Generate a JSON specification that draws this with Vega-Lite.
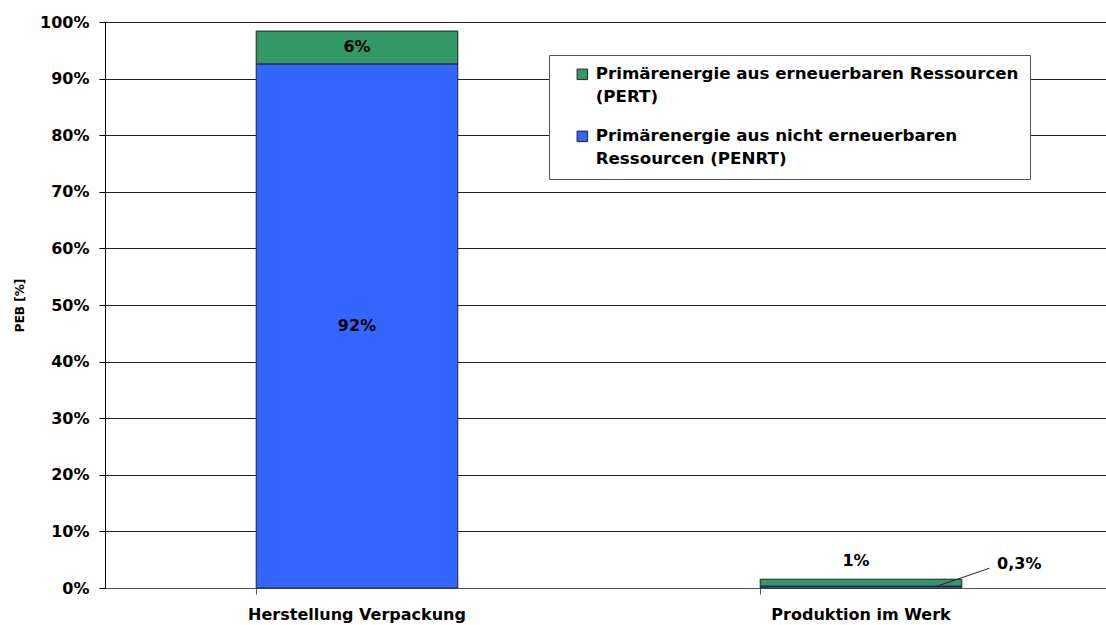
{
  "$schema": "https://vega.github.io/schema/vega-lite/v6.json",
  "autosize": {"type": "none"},
  "padding": {"left": 105, "top": 22, "right": 0, "bottom": 37},
  "width": 1008,
  "height": 566,
  "background": "white",
  "config": {
    "font": "DejaVu Sans",
    "view": {"stroke": null},
    "style": {"guide-label": {"lineHeight": 22.5}},
    "axis": {"labelFont": "DejaVu Sans", "titleFont": "DejaVu Sans", "labelColor": "#000", "titleColor": "#000"}
  },
  "datasets": {
    "main": [
      {"stage": "Herstellung Verpackung", "type": "PENRT", "value": 92.6, "label": "92%"},
      {"stage": "Herstellung Verpackung", "type": "PERT", "value": 5.8, "label": "6%"},
      {"stage": "Produktion im Werk", "type": "PENRT", "value": 0.35, "label": "0,3%"},
      {"stage": "Produktion im Werk", "type": "PERT", "value": 1.2, "label": "1%"}
    ],
    "leader": [
      {"ax": 1.65, "ay": 0.3},
      {"ax": 1.755, "ay": 3.5}
    ]
  },
  "resolve": {"scale": {"x": "independent"}},
  "layer": [
    {
      "data": {"name": "main"},
      "mark": {"type": "bar", "stroke": "#222", "strokeWidth": 1},
      "encoding": {
        "x": {
          "field": "stage", "type": "nominal", "sort": null,
          "scale": {"domain": ["Herstellung Verpackung", "Produktion im Werk"], "paddingInner": 0.6, "paddingOuter": 0.3},
          "axis": {"title": null, "labelAngle": 0, "labelFontSize": 16, "labelFontWeight": "bold", "labelPadding": 12, "labelLimit": 400, "ticks": true, "tickSize": 6, "bandPosition": 0, "domainColor": "#555", "tickColor": "#555", "grid": false}
        },
        "y": {
          "field": "value", "type": "quantitative", "stack": "zero",
          "scale": {"domain": [0, 100]},
          "axis": {"title": "PEB [%]", "titleFontSize": 12, "titleFontWeight": "bold", "titlePadding": 13, "values": [0,10,20,30,40,50,60,70,80,90,100], "labelExpr": "datum.value + '%'", "labelFontSize": 16, "labelFontWeight": "bold", "labelPadding": 10, "tickSize": 6, "tickColor": "#000", "domainColor": "#000", "gridColor": "#222", "gridWidth": 1}
        },
        "color": {
          "field": "type", "type": "nominal",
          "scale": {"domain": ["PERT", "PENRT"], "range": ["#339966", "#3366FF"]},
          "legend": {
            "title": null, "orient": "none", "legendX": 444, "legendY": 33,
            "fillColor": "white", "strokeColor": "#555", "padding": 11,
            "symbolType": "square", "symbolSize": 110, "symbolStrokeColor": "#222", "symbolStrokeWidth": 1, "symbolOffset": 14,
            "labelFontSize": 16.7, "labelFontWeight": "bold", "labelColor": "#000", "labelLimit": 600, "labelFont": "DejaVu Sans", "labelOffset": 5,
            "rowPadding": 22,
            "labelExpr": "datum.label == 'PERT' ? ['Primärenergie aus erneuerbaren Ressourcen', '(PERT)'] : ['Primärenergie aus nicht erneuerbaren', 'Ressourcen (PENRT)']"
          }
        },
        "order": {"field": "type", "sort": "ascending"}
      }
    },
    {
      "data": {"name": "main"},
      "transform": [
        {"filter": "datum.stage == 'Herstellung Verpackung'"},
        {"stack": "value", "groupby": ["stage"], "sort": [{"field": "type", "order": "ascending"}], "as": ["y0", "y1"]},
        {"calculate": "(datum.y0 + datum.y1) / 2", "as": "mid"}
      ],
      "mark": {"type": "text", "fontSize": 16, "fontWeight": "bold", "font": "DejaVu Sans", "color": "#000"},
      "encoding": {
        "x": {"field": "stage", "type": "nominal", "sort": null, "scale": {"domain": ["Herstellung Verpackung", "Produktion im Werk"], "paddingInner": 0.6, "paddingOuter": 0.3}, "axis": null},
        "y": {"field": "mid", "type": "quantitative"},
        "text": {"field": "label"}
      }
    },
    {
      "data": {"name": "main"},
      "transform": [
        {"stack": "value", "groupby": ["stage"], "sort": [{"field": "type", "order": "ascending"}], "as": ["y0", "y1"]},
        {"filter": "datum.stage == 'Produktion im Werk' && datum.type == 'PERT'"}
      ],
      "mark": {"type": "text", "fontSize": 16, "fontWeight": "bold", "font": "DejaVu Sans", "color": "#000", "dy": -18, "dx": -5},
      "encoding": {
        "x": {"field": "stage", "type": "nominal", "sort": null, "scale": {"domain": ["Herstellung Verpackung", "Produktion im Werk"], "paddingInner": 0.6, "paddingOuter": 0.3}, "axis": null},
        "y": {"field": "y1", "type": "quantitative"},
        "text": {"field": "label"}
      }
    },
    {
      "data": {"name": "leader"},
      "mark": {"type": "line", "color": "#222", "strokeWidth": 1},
      "encoding": {
        "x": {"field": "ax", "type": "quantitative", "scale": {"domain": [0, 2]}, "axis": null},
        "y": {"field": "ay", "type": "quantitative"}
      }
    },
    {
      "data": {"name": "main"},
      "transform": [
        {"filter": "datum.stage == 'Produktion im Werk' && datum.type == 'PENRT'"},
        {"calculate": "1.77", "as": "ax"},
        {"calculate": "4.2", "as": "ay"}
      ],
      "mark": {"type": "text", "fontSize": 16, "fontWeight": "bold", "font": "DejaVu Sans", "color": "#000", "align": "left"},
      "encoding": {
        "x": {"field": "ax", "type": "quantitative", "scale": {"domain": [0, 2]}, "axis": null},
        "y": {"field": "ay", "type": "quantitative"},
        "text": {"field": "label"}
      }
    }
  ]
}
